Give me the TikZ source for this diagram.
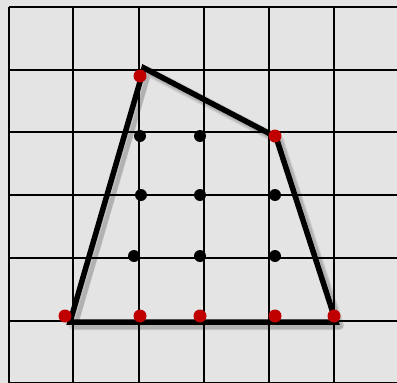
\documentclass[tikz,border=0pt]{standalone}
\usetikzlibrary{calc}
\definecolor{bg}{HTML}{E4E4E4}
\definecolor{dotred}{HTML}{C00000}
\begin{document}
\begin{tikzpicture}[x=1pt,y=-1pt,
  gridline/.style={line width=2.6pt,black},
  edge/.style={line width=5.5pt,black,line join=miter},
  shade/.style={line width=7pt,black,opacity=0.08,line join=round},
  reddot/.style={circle,fill=dotred,inner sep=0pt,minimum size=13pt},
  blackdot/.style={circle,fill=black,inner sep=0pt,minimum size=12pt}]
\useasboundingbox (0,0) rectangle (397,383);
\fill[bg] (0,0) rectangle (397,383);
% grid
\foreach \x in {9,73,139,204,269,334}
  \draw[gridline] (\x,7) -- (\x,383);
\foreach \y in {7,70,132,195,258,321,383}
  \draw[gridline] (9,\y) -- (397,\y);
% polygon vertices
\coordinate (A) at (70,322);
\coordinate (B) at (144,68);
\coordinate (C) at (276,137);
\coordinate (D) at (336,322);
% shadow
\foreach \o/\w in {3/10,4/7,5/4}
  \draw[shade,line width=\w pt] ($(A)+(\o,\o)$) -- ($(B)+(\o,\o)$) -- ($(C)+(\o,\o)$) -- ($(D)+(\o,\o)$) -- cycle;
\draw[edge] (A) -- (B) -- (C) -- (D) -- cycle;
% dots
\node[blackdot] (k1) at (140,136) {};
\node[blackdot] (k2) at (200,136) {};
\node[blackdot] (k3) at (141,195) {};
\node[blackdot] (k4) at (200,195) {};
\node[blackdot] (k5) at (275,195) {};
\node[blackdot] (k6) at (134,256) {};
\node[blackdot] (k7) at (200,256) {};
\node[blackdot] (k8) at (275,256) {};
\node[reddot] (r1) at (140,76) {};
\node[reddot] (r2) at (275,136) {};
\node[reddot] (r3) at (65,316) {};
\node[reddot] (r4) at (140,316) {};
\node[reddot] (r5) at (200,316) {};
\node[reddot] (r6) at (275,316) {};
\node[reddot] (r7) at (334,316) {};
\end{tikzpicture}
\end{document}
